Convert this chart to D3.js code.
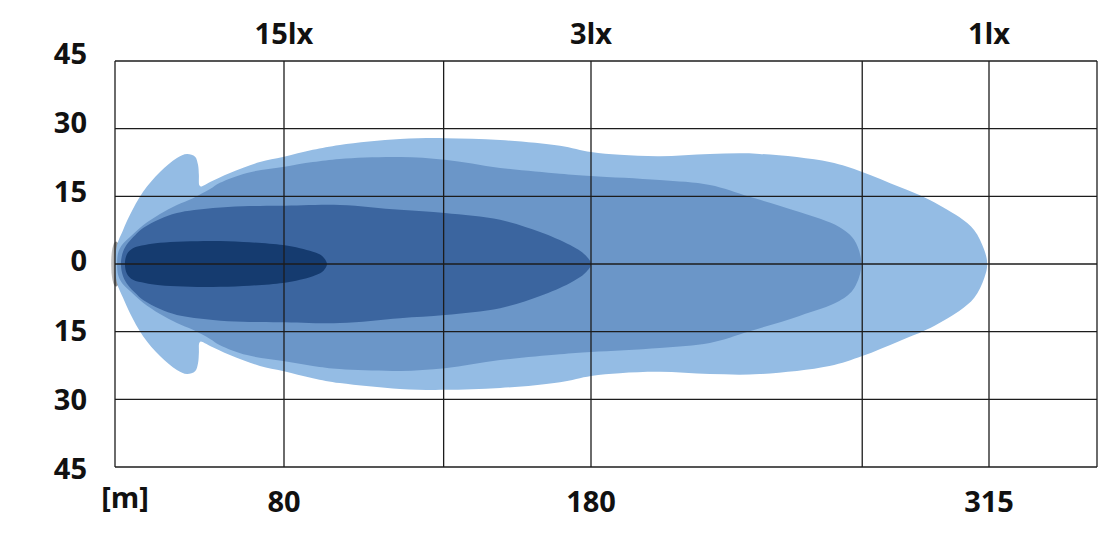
<!DOCTYPE html>
<html>
<head>
<meta charset="utf-8">
<script src="https://cdn.jsdelivr.net/npm/d3@7"></script>
<style>
  html, body { margin: 0; padding: 0; background: #fff; }
  svg { display: block; }
  text { font-family: "Open Sans", "DejaVu Sans", sans-serif; font-weight: 700; fill: #111; }
</style>
</head>
<body>
<svg id="chart" width="1100" height="536"></svg>
<script>
// ---------- data ----------
// distances (m) with grid lines; labelled ones below
const gridX = [0, 80, 132, 180, 272, 315, 350];
const distTicks = [80, 180, 315];
const luxLabels = ["15lx", "3lx", "1lx"];        // illuminance at the labelled distances
const angleTicks = [45, 30, 15, 0, -15, -30, -45]; // degrees
const unitLabel = "[m]";

// beam outlines: [distance m, upper angle deg, lower angle deg]
const beam1lx = [
  [0, 0, 0], [0.95, 4.2, -4.2], [3.8, 7.5, -7.5], [7.1, 10.9, -10.9], [13.3, 16.0, -16.0],
  [21.3, 20.4, -20.4], [29.3, 23.5, -23.5], [34.1, 24.4, -24.4], [37.9, 23.8, -23.8],
  [39.3, 22.0, -22.0], [39.7, 19.8, -19.8], [39.9, 17.5, -17.5], [40.6, 17.2, -17.2],
  [45.0, 18.2, -18.2], [54.4, 20.2, -20.2],
  [68.6, 22.6, -22.6], [79.5, 23.7, -23.7], [89.4, 25.3, -25.3], [98.2, 26.4, -26.4],
  [117.8, 27.7, -27.7], [132.4, 27.9, -27.9], [150.4, 27.5, -27.5], [169.9, 26.2, -26.2],
  [180, 24.8, -24.8], [189.8, 24.2, -24.2], [203.3, 23.9, -23.9], [220.3, 24.4, -24.4],
  [237.2, 24.4, -24.4], [260.9, 22.6, -22.6], [272, 20.4, -20.4], [284.5, 17.1, -17.1],
  [293.7, 14.6, -14.6], [304.9, 10.4, -10.4], [310, 7.5, -7.5], [313.4, 3.1, -3.1],
  [314.4, 0, 0]
];
const beam3lx = [
  [1.0, 0, 0], [1.5, 2.5, -2.5], [3.3, 4.2, -4.2], [7.1, 6.0, -6.0], [13.3, 8.6, -8.6],
  [21.3, 11.1, -11.1], [29.3, 13.1, -13.1], [36.9, 14.6, -14.6], [45.0, 16.6, -16.6],
  [49.7, 18.0, -18.0], [62.5, 20.2, -20.2], [79.5, 21.5, -21.5], [89.4, 22.6, -22.6],
  [98.2, 23.3, -23.3], [117.8, 23.7, -23.7], [132.4, 23.1, -23.1], [150.4, 21.3, -21.3],
  [169.9, 20.0, -20.0], [180, 19.5, -19.5], [203.3, 18.6, -18.6], [220.3, 17.5, -17.5],
  [233.8, 14.9, -14.9], [250.7, 11.5, -11.5], [264.2, 8.2, -8.2], [269.3, 5.3, -5.3],
  [271.7, 0, 0]
];
const beam15lx = [
  [2.8, 0, 0], [3.8, 2.7, -2.7], [6.2, 4.7, -4.7], [9.5, 6.4, -6.4], [13.3, 8.0, -8.0],
  [21.3, 10.0, -10.0], [29.3, 11.3, -11.3], [46.4, 12.4, -12.4], [60.6, 12.8, -12.8],
  [78.1, 12.9, -12.9], [98.2, 13.1, -13.1], [117.8, 12.0, -12.0], [132.4, 11.3, -11.3],
  [150.4, 9.8, -9.8], [163.4, 7.1, -7.1], [173.2, 4.2, -4.2], [178.1, 2.0, -2.0],
  [180, 0, 0]
];
const beamCore = [
  [4.7, 0, 0], [5.7, 2.2, -2.2], [8.5, 3.5, -3.5], [14.2, 4.2, -4.2], [21.3, 4.7, -4.7],
  [45.0, 5.1, -5.1], [60.6, 4.9, -4.9], [79.5, 4.2, -4.2], [85.2, 3.5, -3.5],
  [89.4, 2.7, -2.7], [92.4, 1.8, -1.8], [94.0, 0, 0]
];
const lamp = [0, 5]; // position (m), half height (deg)

// ---------- layout ----------
const svg = d3.select("#chart");
const x = d3.scaleLinear().domain([0, 80, 180, 315, 350]).range([115, 284, 591, 989, 1097]);
const y = d3.scaleLinear().domain([-45, 45]).range([467, 61]);
const yLab = d3.scaleLinear().domain([-45, 45]).range([468.5, 53.5]);

// lamp
const grad = svg.append("defs").append("linearGradient").attr("id", "lampGrad")
  .attr("x1", "0").attr("x2", "1").attr("y1", "0").attr("y2", "0");
grad.append("stop").attr("offset", "0").attr("stop-color", "#d0d0d0");
grad.append("stop").attr("offset", "0.6").attr("stop-color", "#8a8a8a");
grad.append("stop").attr("offset", "1").attr("stop-color", "#777");
svg.append("ellipse")
  .attr("cx", x(lamp[0]) + 1).attr("cy", y(0))
  .attr("rx", 5).attr("ry", y(0) - y(lamp[1]))
  .attr("fill", "url(#lampGrad)");

// beams
const line = d3.line().x(d => x(d[0])).y(d => y(d[1])).curve(d3.curveCatmullRomClosed.alpha(0.5));
function outline(rows) {
  const up = rows.map(r => [r[0], r[1]]);
  const lo = rows.filter(r => r[2] !== r[1]).map(r => [r[0], r[2]]).reverse();
  return up.concat(lo);
}
const beams = [
  { rows: beam1lx, color: "#94bce4" },
  { rows: beam3lx, color: "#6b96c8" },
  { rows: beam15lx, color: "#3b659f" },
  { rows: beamCore, color: "#153b6f" }
];
svg.append("g").selectAll("path").data(beams).join("path")
  .attr("d", d => line(outline(d.rows)))
  .attr("fill", d => d.color);

// grid
const grid = svg.append("g").attr("stroke", "#1c1c1c").attr("stroke-width", 1.3);
grid.selectAll("line.v").data(gridX).join("line").attr("class", "v")
  .attr("x1", d => x(d)).attr("x2", d => x(d)).attr("y1", y(45)).attr("y2", y(-45));
grid.selectAll("line.h").data(angleTicks).join("line").attr("class", "h")
  .attr("y1", d => y(d)).attr("y2", d => y(d)).attr("x1", x(0)).attr("x2", x(350));

// y labels
svg.append("g").selectAll("text").data(angleTicks).join("text")
  .attr("x", 87).attr("y", d => yLab(d)).attr("dy", "0.36em")
  .attr("text-anchor", "end").attr("font-size", 29)
  .text(d => Math.abs(d));

// bottom distance labels
svg.append("g").selectAll("text").data(distTicks).join("text")
  .attr("x", d => x(d)).attr("y", 512)
  .attr("text-anchor", "middle").attr("font-size", 29)
  .text(d => d);
svg.append("text").attr("x", x(0) + 10).attr("y", 508)
  .attr("text-anchor", "middle").attr("font-size", 29).text(unitLabel);

// top lux labels
svg.append("g").selectAll("text").data(distTicks).join("text")
  .attr("x", d => x(d)).attr("y", 44)
  .attr("text-anchor", "middle").attr("font-size", 29)
  .text((d, i) => luxLabels[i]);
</script>
</body>
</html>
